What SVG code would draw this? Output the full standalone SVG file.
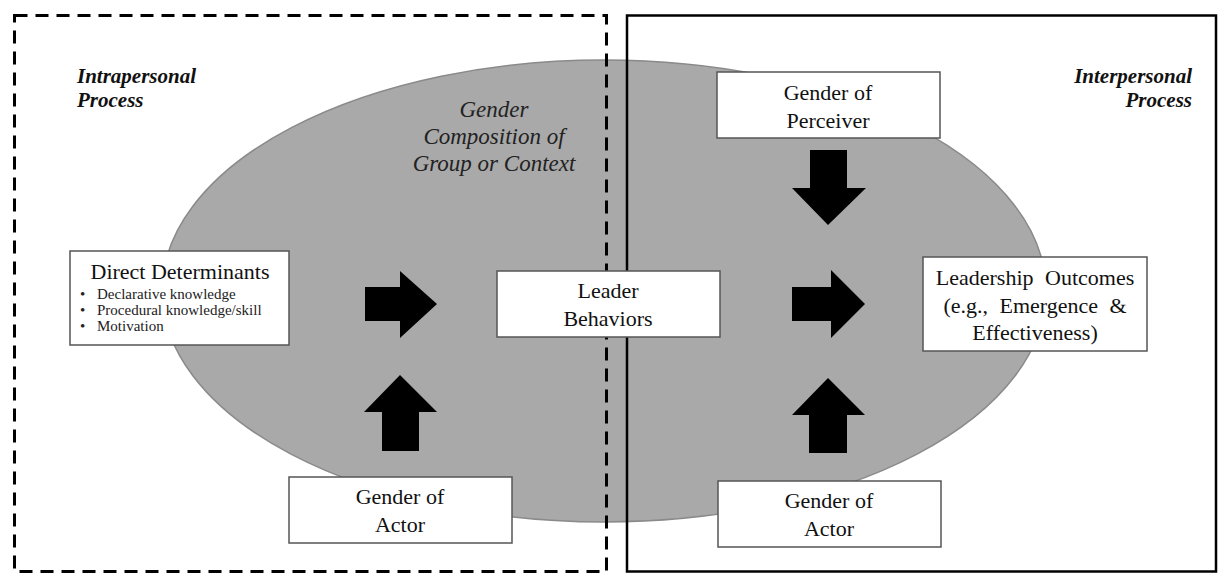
<svg xmlns="http://www.w3.org/2000/svg" width="1221" height="575" viewBox="0 0 1221 575">
<style>
.box{fill:#fff;stroke:#555;stroke-width:1.5}
.t{font-family:"Liberation Serif","Times New Roman",serif;font-size:22px;fill:#111;text-anchor:middle}
.b{font-family:"Liberation Serif","Times New Roman",serif;font-size:15px;fill:#222}
.hd{font-family:"Liberation Serif","Times New Roman",serif;font-size:21px;font-weight:bold;font-style:italic;fill:#111}
.it{font-family:"Liberation Serif","Times New Roman",serif;font-size:23px;font-style:italic;fill:#222;text-anchor:middle}
.arr{fill:#000}
</style>
<rect width="1221" height="575" fill="#fff"/>
<g id="context">
<ellipse cx="604" cy="291" rx="442" ry="231" fill="#a9a9a9" stroke="#8a8a8a" stroke-width="1.5"/>
<text class="it" x="494" y="117">Gender</text>
<text class="it" x="494" y="144">Composition of</text>
<text class="it" x="494" y="171">Group or Context</text>
</g>
<g id="intrapersonal">
<rect x="14.5" y="15.5" width="592" height="556" fill="none" stroke="#000" stroke-width="3" stroke-dasharray="13,8"/>
<text class="hd" x="77" y="83">Intrapersonal</text>
<text class="hd" x="77" y="107">Process</text>
</g>
<g id="interpersonal">
<rect x="627" y="15.5" width="589" height="556" fill="none" stroke="#000" stroke-width="2.5"/>
<text class="hd" x="1192" y="83" text-anchor="end">Interpersonal</text>
<text class="hd" x="1192" y="107" text-anchor="end">Process</text>
</g>
<g id="connectors">
<polygon class="arr" points="365,287 400,287 400,271 437,304 400,338 400,321 365,321"/>
<polygon class="arr" points="792,287 831,287 831,270 865,304 831,338 831,321 792,321"/>
<polygon class="arr" points="382,451 382,412 364,412 400,375 437,412 419,412 419,451"/>
<polygon class="arr" points="809,453 809,415 792,415 828,378 865,415 847,415 847,453"/>
<polygon class="arr" points="810,150 847,150 847,188 866,188 828,225 792,188 810,188"/>
</g>
<g id="direct-determinants">
<rect class="box" x="70" y="251" width="219" height="94"/>
<text class="t" x="180" y="279">Direct Determinants</text>
<text class="b" x="80" y="299">•</text><text class="b" x="97" y="299">Declarative knowledge</text>
<text class="b" x="80" y="315">•</text><text class="b" x="97" y="315">Procedural knowledge/skill</text>
<text class="b" x="80" y="331">•</text><text class="b" x="97" y="331">Motivation</text>
</g>
<g id="leader-behaviors">
<rect class="box" x="497" y="271" width="223" height="66"/>
<text class="t" x="608" y="298">Leader</text>
<text class="t" x="608" y="326">Behaviors</text>
</g>
<g id="leadership-outcomes">
<rect class="box" x="923" y="257" width="224" height="94"/>
<text class="t" x="1035" y="285" word-spacing="6">Leadership Outcomes</text>
<text class="t" x="1035" y="313" word-spacing="6">(e.g., Emergence &amp;</text>
<text class="t" x="1035" y="340">Effectiveness)</text>
</g>
<g id="gender-perceiver">
<rect class="box" x="717" y="72" width="223" height="66"/>
<text class="t" x="828" y="100">Gender of</text>
<text class="t" x="828" y="128">Perceiver</text>
</g>
<g id="gender-actor-left">
<rect class="box" x="289" y="477" width="223" height="66"/>
<text class="t" x="400" y="504">Gender of</text>
<text class="t" x="400" y="532">Actor</text>
</g>
<g id="gender-actor-right">
<rect class="box" x="718" y="481" width="223" height="66"/>
<text class="t" x="829" y="508">Gender of</text>
<text class="t" x="829" y="536">Actor</text>
</g>
</svg>
